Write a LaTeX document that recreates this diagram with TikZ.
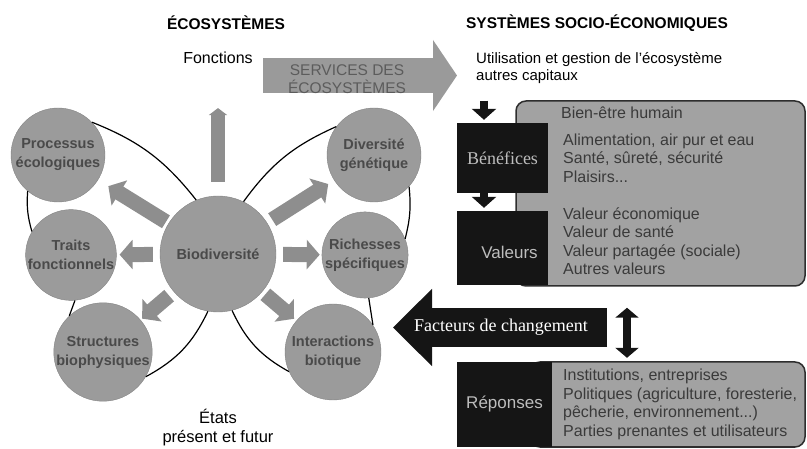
\documentclass[tikz,border=0pt]{standalone}
\usepackage{fontspec}
\setmainfont{Liberation Sans}
\newfontfamily\serifface{Liberation Serif}
\usetikzlibrary{backgrounds}
\usetikzlibrary{calc}
\usetikzlibrary{arrows.meta}
\definecolor{CircleGrey}{HTML}{9B9B9B}
\definecolor{CircleText}{HTML}{4A4A4A}
\definecolor{ArrowGrey}{HTML}{8E8E8E}
\definecolor{ServGrey}{HTML}{9A9A9A}
\definecolor{ServText}{HTML}{5C5C5C}
\definecolor{BoxGrey}{HTML}{A2A2A2}
\definecolor{BoxText}{HTML}{3A3A3A}
\definecolor{BoxBlack}{HTML}{151515}
\definecolor{PaleText}{HTML}{BDBDBD}
\newcommand{\hdrsize}{\fontsize{15.5}{18}\selectfont\bfseries}
\newcommand{\txtsize}{\fontsize{16}{18.5}\selectfont}
\newcommand{\circsize}{\fontsize{14.5}{19}\selectfont\bfseries}
\newcommand{\bigserif}{\serifface\fontsize{18}{20}\selectfont}

\begin{document}
\begin{tikzpicture}[x=1pt,y=-1pt,
    hdr/.style={font=\hdrsize,inner sep=2pt},
    plain/.style={font=\txtsize,inner sep=2pt},
    eco/.style={circle,fill=CircleGrey,draw=CircleGrey!85!black,line width=0.4pt,
      inner sep=0pt,align=center,text=CircleText,font=\circsize},
    garrow/.style={draw=ArrowGrey,line width=15pt,-{Triangle[length=13pt,width=29pt]}},
    uparrow/.style={draw=ArrowGrey,line width=14pt,-{Triangle[length=7pt,width=18pt]}},
    contour/.style={draw=black,line width=1.2pt},
    wellbox/.style={draw=BoxText!80!black,line width=1.5pt,fill=BoxGrey,rounded corners=10pt},
    blackbox/.style={fill=BoxBlack,text=PaleText,font=\fontsize{17}{20}\selectfont,inner sep=0pt},
    welltext/.style={font=\txtsize,text=BoxText,align=left,inner sep=0pt},
    smallarrow/.style={draw=BoxBlack,line width=8pt,-{Triangle[length=11pt,width=24pt]}},
    dblarrow/.style={draw=BoxBlack,line width=8pt,{Triangle[length=10pt,width=23pt]}-{Triangle[length=10pt,width=23pt]}},
    servarrow/.style={draw=ServGrey,line width=35pt,-{Triangle[length=24pt,width=70pt]}},
    facarrow/.style={draw=BoxBlack,line width=39pt,-{Triangle[length=39pt,width=75pt]}}]
    \useasboundingbox (0,0) rectangle (807,449);

    % headings
    \node[hdr] (ecohead) at (226,23) {ÉCOSYSTÈMES};
    \node[hdr] (sochead) at (597,23) {SYSTÈMES SOCIO-ÉCONOMIQUES};
    \node[plain] (fonc) at (218,58) {Fonctions};
    \node[plain,align=center,font=\fontsize{16.5}{19}\selectfont] (etats) at (218,428) {États\\présent et futur};

    % ecosystem circles
    \node[eco,minimum size=94pt] (proc) at (58,155) {Processus\\écologiques};
    \node[eco,minimum size=94pt] (div) at (374,155) {Diversité\\génétique};
    \node[eco,minimum size=116pt] (bio) at (218,254) {Biodiversité};
    \node[eco,minimum size=86pt] (traits) at (71,255) {Traits\\fonctionnels};
    \node[eco,minimum size=86pt] (rich) at (365,255) {Richesses\\spécifiques};
    \node[eco,minimum size=96pt] (struct) at (103,352) {Structures\\biophysiques};
    \node[eco,minimum size=96pt] (inter) at (333,352) {Interactions\\biotique};

    % arrows out of biodiversity
    \draw[uparrow,shorten <=14pt,shorten >=42pt] (bio) -- (fonc);
    \draw[garrow,shorten <=3pt,shorten >=12pt] (bio) -- (proc);
    \draw[garrow,shorten <=6pt,shorten >=7pt] (bio) -- (div);
    \draw[garrow,shorten <=7pt,shorten >=3pt] (bio) -- (traits);
    \draw[garrow,shorten <=7pt,shorten >=2pt] (bio) -- (rich);
    \draw[garrow,shorten <=6pt,shorten >=2pt] (bio) -- (struct);
    \draw[garrow,shorten <=4pt,shorten >=3pt] (bio) -- (inter);

    % outer contour
    \draw[contour] (proc.44) to[bend left=15] (bio.112);
    \draw[contour] (div.143) to[bend right=15] (bio.64);
    \draw[contour] (bio.260) to[bend left=18] (struct.-30);
    \draw[contour] (bio.-76) to[bend right=18] (inter.204);
    \draw[contour] (proc.230) to[bend right=10] (traits.149);
    \draw[contour] (traits.275) -- (struct.133);
    \draw[contour] (div.-42) to[bend left=10] (rich.22);
    \draw[contour] (rich.275) -- (inter.34);

    % services arrow
    \coordinate (servtail) at (263,75.5);
    \coordinate (servtip) at (457,75.5);
    \draw[servarrow] (servtail) -- (servtip);
    \node[plain,align=center,text=ServText,font=\fontsize{15.5}{17.5}\selectfont] (serv) at (347,79) {SERVICES DES\\ÉCOSYSTÈMES};

    % socio-economic part
    \node[plain,align=left,anchor=west,font=\fontsize{15}{16.5}\selectfont] (util) at (474,68) {Utilisation et gestion de l'écosystème\\autres capitaux};
    \node[wellbox,minimum width=289pt,minimum height=185pt] (well) at (660.5,193.5) {};
    \node[blackbox,minimum width=91pt,minimum height=70pt,font=\bigserif] (benef) at (502.5,158) {Bénéfices};
    \node[blackbox,minimum width=91pt,minimum height=74pt] (val) at (502.5,248) {\hspace*{14pt}Valeurs\rule{0pt}{22pt}};
    \node[welltext] (bienetre) at (622,113) {Bien-être humain};
    \node[welltext,anchor=west] (wellA) at (563,158) {Alimentation, air pur et eau\\Santé, sûreté, sécurité\\Plaisirs...};
    \node[welltext,anchor=west] (wellB) at (563,241) {Valeur économique\\Valeur de santé\\Valeur partagée (sociale)\\Autres valeurs};

    \coordinate (benx) at (484,0);
    \draw[smallarrow,shorten <=15pt,shorten >=3pt] (util.south -| benx) -- (benef.north -| benx);
    \draw[smallarrow,shorten >=3pt] (benef.south -| benx) -- (val.north -| benx);

    % responses part
    \node[wellbox,minimum width=275pt,minimum height=85pt] (respwell) at (667.5,404.5) {};
    \node[blackbox,minimum width=95pt,minimum height=85pt] (resp) at (504.5,404.5) {Réponses};
    \node[welltext,anchor=west] (respA) at (563,404.5) {Institutions, entreprises\\Politiques (agriculture, foresterie,\\pêcherie, environnement...)\\Parties prenantes et utilisateurs};

    \coordinate (dblx) at (627,0);
    \draw[dblarrow,shorten <=21pt,shorten >=4pt] (well.south -| dblx) -- (resp.north -| dblx);

    % drivers of change arrow
    \coordinate (factail) at (607,327.5);
    \coordinate (factip) at (393,327.5);
    \draw[facarrow] (factail) -- (factip);
    \node[plain,text=white,font=\bigserif] (fac) at (501,327) {Facteurs de changement};
\end{tikzpicture}
\end{document}
